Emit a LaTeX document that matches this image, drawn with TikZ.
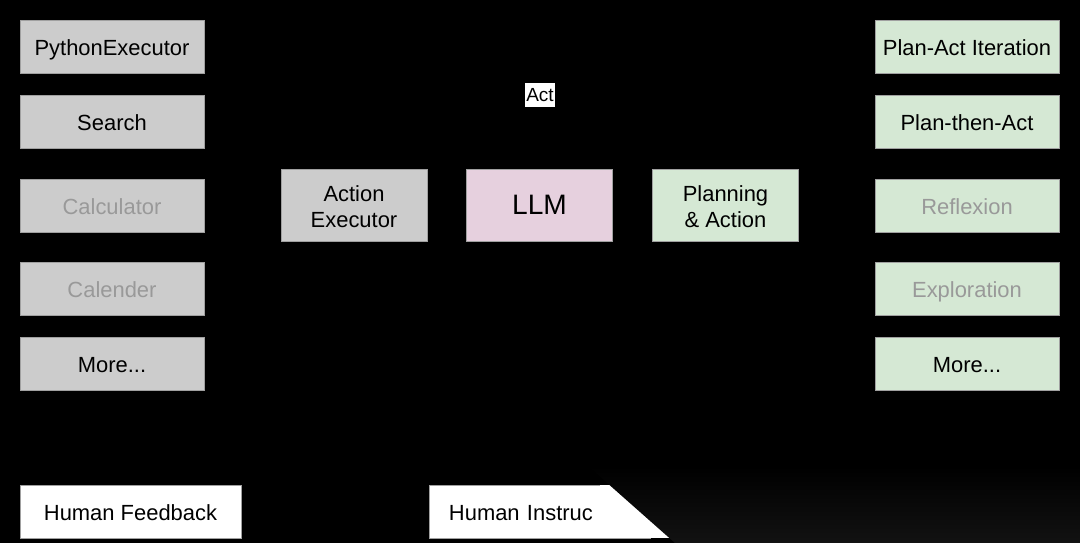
\documentclass[tikz,border=0pt]{standalone}
\usepackage{fontspec}
\setmainfont{Liberation Sans}
\definecolor{toolgray}{HTML}{CCCCCC}
\definecolor{llmpink}{HTML}{E6D0DE}
\definecolor{plangreen}{HTML}{D5E8D4}
\definecolor{fadedtext}{HTML}{999999}
\definecolor{boxline}{HTML}{A0A0A0}

\begin{document}
\begin{tikzpicture}[x=0.025cm,y=-0.025cm,
        box/.style={draw=boxline,line width=0.6pt,minimum width=4.6cm,minimum height=1.325cm,
            inner sep=0pt,font=\fontsize{15.6}{18.5}\selectfont},
        oneline/.style={text height=14pt,text depth=1.2pt},
        tool/.style={box,oneline,fill=toolgray},
        plan/.style={box,oneline,fill=plangreen},
        faded/.style={text=fadedtext},
        core/.style={box,minimum width=3.65cm,minimum height=1.8cm,align=center},
        human/.style={box,oneline,fill=white,minimum width=5.525cm}]
        \fill[black] (0,0) rectangle (1080,543);

        % tools
        \node[tool] (python) at (112,47) {PythonExecutor};
        \node[tool] (search) at (112,121.5) {Search};
        \node[tool,faded] (calc) at (112,205.5) {Calculator};
        \node[tool,faded] (calendar) at (112,289) {Calender};
        \node[tool] (moretools) at (112,363.5) {More...};

        % core
        \node[core,fill=toolgray] (executor) at (354,205) {\rule{0pt}{13pt}Action\\Executor};
        \node[core,fill=llmpink,font=\fontsize{20}{24}\selectfont] (llm) at (539.5,205) {LLM};
        \node[core,fill=plangreen] (planning) at (725.5,205) {\rule{0pt}{13pt}Planning\\\& Action};
        \node[fill=white,inner xsep=0.8pt,inner ysep=3.5pt,font=\fontsize{13.5}{15}\selectfont] (act) at (540,95) {Act};

        % planning modes
        \node[plan] (planact) at (967,47) {Plan-Act Iteration};
        \node[plan] (planthen) at (967,121.5) {Plan-then-Act};
        \node[plan,faded] (reflexion) at (967,205.5) {Reflexion};
        \node[plan,faded] (explore) at (967,289) {Exploration};
        \node[plan] (moreplans) at (967,363.5) {More...};

        % humans
        \node[human] (feedback) at (130.5,511.5) {Human Feedback};
        \node[human,text width=4.525cm,align=left] (instruct) at (539.5,511.5) {Human Instruc};
        \fill[white] (600,485) rectangle (700,538);
        \shade[top color=black,bottom color=black!93!white] (588,466) -- (1080,466) -- (1080,543) -- (675,543) -- cycle;
\end{tikzpicture}
\end{document}
